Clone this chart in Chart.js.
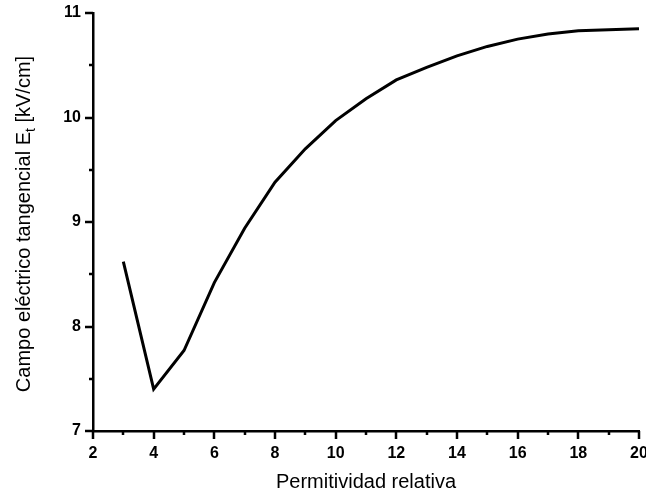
<!DOCTYPE html>
<html>
<head>
<meta charset="utf-8">
<title>Campo eléctrico tangencial</title>
<script src="https://cdn.jsdelivr.net/npm/chart.js@4.4.0/dist/chart.umd.min.js"></script>
<style>
  html, body { margin: 0; padding: 0; background: #fff; }
  #wrap { width: 646px; height: 494px; }
</style>
</head>
<body>
<div id="wrap"><canvas id="chart" width="646" height="494"></canvas></div>
<script>
// datos
var permitividad = [3, 4, 5, 6, 7, 8, 9, 10, 11, 12, 13, 14, 15, 16, 17, 18, 19, 20];
var campoEt = [8.62, 7.40, 7.77, 8.42, 8.94, 9.38, 9.70, 9.97, 10.18, 10.36, 10.48, 10.59, 10.68, 10.75, 10.80, 10.83, 10.84, 10.85];
var xTickLabels = [2, 4, 6, 8, 10, 12, 14, 16, 18, 20];
var yTickLabels = [7, 8, 9, 10, 11];

var FONT = "'Liberation Sans', Arial, sans-serif";

/* marcas de eje mayores / menores (Chart.js no trae ticks menores) */
var tickMarks = {
  id: 'tickMarks',
  afterDraw: function(chart) {
    var ctx = chart.ctx, xs = chart.scales.x, ys = chart.scales.y;
    var area = chart.chartArea;
    ctx.save();
    ctx.strokeStyle = '#000';
    ctx.lineWidth = 2.5;
    ctx.beginPath();
    xs.ticks.forEach(function(t) {
      var px = Math.round(xs.getPixelForValue(t.value));
      var len = xTickLabels.indexOf(t.value) >= 0 ? 8 : 4;
      ctx.moveTo(px, area.bottom);
      ctx.lineTo(px, area.bottom + len);
    });
    ys.ticks.forEach(function(t) {
      var py = Math.round(ys.getPixelForValue(t.value));
      var len = yTickLabels.indexOf(t.value) >= 0 ? 8 : 4;
      ctx.moveTo(area.left, py);
      ctx.lineTo(area.left - len, py);
    });
    ctx.stroke();
    ctx.restore();
  }
};

/* título del eje Y con subíndice (E_t) */
var yTitle = {
  id: 'yTitle',
  afterDraw: function(chart) {
    var ctx = chart.ctx, area = chart.chartArea;
    var big = '20px ' + FONT, small = '14px ' + FONT;
    var p1 = 'Campo eléctrico tangencial E', sub = 't', p2 = ' [kV/cm]';
    ctx.save();
    ctx.font = big;
    var w1 = ctx.measureText(p1).width, w3 = ctx.measureText(p2).width;
    ctx.font = small;
    var w2 = ctx.measureText(sub).width;
    var total = w1 + w2 + w3;
    ctx.translate(30, (area.top + area.bottom) / 2 + 2);
    ctx.rotate(-Math.PI / 2);
    ctx.fillStyle = '#000';
    ctx.textBaseline = 'alphabetic';
    ctx.textAlign = 'left';
    var x0 = -total / 2;
    ctx.font = big;
    ctx.fillText(p1, x0, 0);
    ctx.font = small;
    ctx.fillText(sub, x0 + w1, 5);
    ctx.font = big;
    ctx.fillText(p2, x0 + w1 + w2, 0);
    ctx.restore();
  }
};

var puntos = permitividad.map(function(x, i) { return { x: x, y: campoEt[i] }; });

new Chart(document.getElementById('chart'), {
  type: 'line',
  data: {
    datasets: [{
      data: puntos,
      borderColor: '#000',
      borderWidth: 3,
      pointRadius: 0,
      tension: 0,
      fill: false
    }]
  },
  options: {
    responsive: false,
    animation: false,
    events: [],
    layout: { padding: { left: 0, right: 7, top: 13, bottom: 0 } },
    plugins: { legend: { display: false }, tooltip: { enabled: false } },
    scales: {
      x: {
        type: 'linear',
        min: 2, max: 20,
        grid: { display: false, drawTicks: false },
        border: { display: true, color: '#000', width: 2.5 },
        ticks: {
          stepSize: 1,
          autoSkip: false,
          maxRotation: 0,
          padding: 13,
          color: '#000',
          font: { family: FONT, size: 16, weight: 'bold' },
          callback: function(v) { return xTickLabels.indexOf(v) >= 0 ? String(v) : ''; }
        },
        title: {
          display: true,
          text: 'Permitividad relativa',
          color: '#000',
          font: { family: FONT, size: 20 },
          padding: { top: 0, bottom: 0 }
        },
        afterFit: function(s) { s.height = 63; s.paddingLeft = 0; s.paddingRight = 0; }
      },
      y: {
        min: 7, max: 11,
        grid: { display: false, drawTicks: false },
        border: { display: true, color: '#000', width: 2.5 },
        ticks: {
          stepSize: 0.5,
          autoSkip: false,
          padding: 12,
          color: '#000',
          font: { family: FONT, size: 16, weight: 'bold' },
          callback: function(v) { return yTickLabels.indexOf(v) >= 0 ? String(v) : ''; }
        },
        afterFit: function(s) { s.width = 93; s.paddingTop = 0; s.paddingBottom = 0; }
      }
    }
  },
  plugins: [tickMarks, yTitle]
});
</script>
</body>
</html>
